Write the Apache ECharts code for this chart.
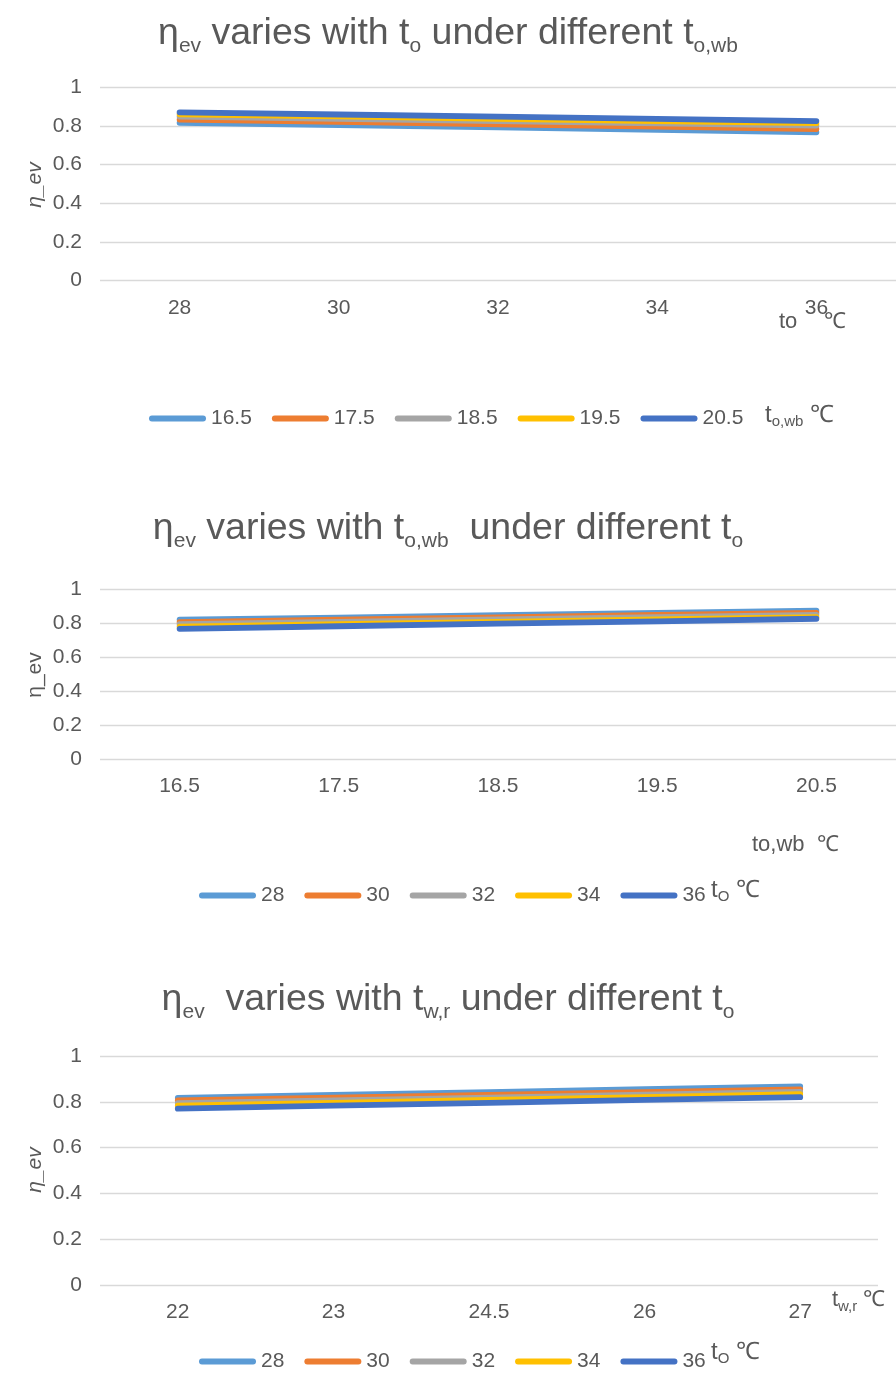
<!DOCTYPE html>
<html><head><meta charset="utf-8">
<script src="https://cdn.jsdelivr.net/npm/echarts@6/dist/echarts.min.js"></script>
<style>html,body{margin:0;padding:0;background:#fff}#c{width:896px;height:1383px}</style>
</head><body><div id="c"></div>
<script>
const COLORS = ['#5B9BD5', '#ED7D31', '#A5A5A5', '#FFC000', '#4472C4'];
// chart 1: x = t_o, series = t_o,wb
const c1Cats = ['28', '30', '32', '34', '36'];
const c1Names = ['16.5', '17.5', '18.5', '19.5', '20.5'];
const c1_165 = [0.817, 0.805, 0.793, 0.780, 0.768];
const c1_175 = [0.834, 0.822, 0.809, 0.797, 0.785];
const c1_185 = [0.849, 0.837, 0.826, 0.814, 0.803];
const c1_195 = [0.861, 0.850, 0.838, 0.826, 0.815];
const c1_205 = [0.871, 0.860, 0.849, 0.837, 0.826];
// chart 2: x = t_o,wb, series = t_o
const c2Cats = ['16.5', '17.5', '18.5', '19.5', '20.5'];
const c2Names = ['28', '30', '32', '34', '36'];
const c2_28 = [0.819, 0.832, 0.846, 0.859, 0.872];
const c2_30 = [0.805, 0.819, 0.833, 0.847, 0.860];
const c2_32 = [0.793, 0.807, 0.821, 0.834, 0.848];
const c2_34 = [0.779, 0.793, 0.807, 0.821, 0.835];
const c2_36 = [0.766, 0.781, 0.796, 0.810, 0.825];
// chart 3: x = t_w,r, series = t_o
const c3Cats = ['22', '23', '24.5', '26', '27'];
const c3Names = ['28', '30', '32', '34', '36'];
const c3_28 = [0.817, 0.830, 0.842, 0.855, 0.867];
const c3_30 = [0.806, 0.818, 0.830, 0.842, 0.854];
const c3_32 = [0.794, 0.806, 0.818, 0.831, 0.843];
const c3_34 = [0.783, 0.795, 0.808, 0.820, 0.833];
const c3_36 = [0.770, 0.783, 0.795, 0.808, 0.820];
const yMin = 0, yMax = 1, yStep = 0.2;
const yName = 'η_ev';

const FONT = '"Liberation Sans", Arial, sans-serif';
const TXT = '#595959';
const GRID = '#D9D9D9';
const LBL = 21;

const chart = echarts.init(document.getElementById('c'), null, {renderer: 'canvas'});

function xAxis(idx, cats) {
  return {
    type: 'category', gridIndex: idx, data: cats, boundaryGap: true,
    axisLine: {show: false}, axisTick: {show: false},
    axisLabel: {color: TXT, fontSize: LBL, fontFamily: FONT, margin: 17}
  };
}
function yAxis(idx) {
  return {
    type: 'value', gridIndex: idx, min: yMin, max: yMax, interval: yStep,
    axisLine: {show: false}, axisTick: {show: false},
    axisLabel: {color: TXT, fontSize: LBL, fontFamily: FONT, margin: 18},
    splitLine: {lineStyle: {color: GRID, width: 1.3}}
  };
}
function series(name, data, color, idx) {
  return {
    type: 'line', name: name, data: data, xAxisIndex: idx, yAxisIndex: idx,
    symbol: 'none', smooth: false,
    lineStyle: {color: color, width: 5.8, cap: 'round', join: 'round'},
    itemStyle: {color: color}
  };
}
const ICON = 'path://M3,0 L55,0 A3,3 0 0 1 55,6 L3,6 A3,3 0 0 1 3,0 Z';
function legend(names, left, top) {
  return {
    data: names, left: left, top: top, orient: 'horizontal', padding: 0,
    icon: ICON, itemWidth: 57, itemHeight: 6, itemGap: 20,
    textStyle: {color: TXT, fontSize: LBL, fontFamily: FONT},
    selectedMode: false
  };
}
const SUB = {fontSize: 21, fontFamily: FONT, fill: TXT, verticalAlign: 'bottom', lineHeight: 16};
const MAIN = {fontSize: 37.5, fontFamily: FONT, fill: TXT, lineHeight: 46};
function title(text, x, y) {
  return {
    type: 'text', x: x, y: y,
    style: {text: text, align: 'center', verticalAlign: 'middle', rich: {m: MAIN, s: SUB}}
  };
}
function note(text, x, y, size) {
  return {
    type: 'text', x: x, y: y,
    style: {text: text, align: 'left', verticalAlign: 'middle',
      rich: {m: {fontSize: size, fontFamily: FONT, fill: TXT, lineHeight: 28},
             s: {fontSize: 15, fontFamily: FONT, fill: TXT, verticalAlign: 'bottom', lineHeight: 12}}}
  };
}
function yLabel(y, italic) {
  return {
    type: 'text', x: 35, y: y, rotation: Math.PI / 2,
    style: {text: yName, align: 'center', verticalAlign: 'middle', fill: TXT,
      font: (italic ? 'italic ' : '') + '21px ' + FONT}
  };
}

const c1Data = [c1_165, c1_175, c1_185, c1_195, c1_205];
const c2Data = [c2_28, c2_30, c2_32, c2_34, c2_36];
const c3Data = [c3_28, c3_30, c3_32, c3_34, c3_36];

const allSeries = [];
c1Names.forEach((n, i) => allSeries.push(series(n, c1Data[i], COLORS[i], 0)));
c2Names.forEach((n, i) => allSeries.push(series(n, c2Data[i], COLORS[i], 1)));
c3Names.forEach((n, i) => allSeries.push(series(n, c3Data[i], COLORS[i], 2)));

chart.setOption({
  animation: false,
  backgroundColor: '#fff',
  grid: [
    {left: 100, top: 87.5, width: 796, height: 193},
    {left: 100, top: 589, width: 796, height: 170},
    {left: 100, top: 1056, width: 778, height: 229}
  ],
  xAxis: [xAxis(0, c1Cats), xAxis(1, c2Cats), xAxis(2, c3Cats)],
  yAxis: [yAxis(0), yAxis(1), yAxis(2)],
  legend: [legend(c1Names, 149, 408), legend(c2Names, 199, 885), legend(c3Names, 199, 1351)],
  series: allSeries,
  graphic: [
    title('{m|η}{s|ev}{m| varies with t}{s|o}{m| under different t}{s|o,wb}', 448, 34),
    title('{m|η}{s|ev}{m| varies with t}{s|o,wb}{m|  under different t}{s|o}', 448, 529),
    title('{m|η}{s|ev}{m|  varies with t}{s|w,r}{m| under different t}{s|o}', 448, 1000),
    yLabel(185, true),
    yLabel(675, false),
    yLabel(1170, true),
    note('{m|to}', 779, 322, 22),
    note('{m|℃}', 824, 322, 22),
    note('{m|to,wb  ℃}', 752, 845, 22),
    note('{m|t}{s|w,r}{m| ℃}', 832, 1300, 22),
    note('{m|t}{s|o,wb}{m| ℃}', 765, 415, 24),
    note('{m|t}{s|O}{m| ℃}', 711, 890, 24),
    note('{m|t}{s|O}{m| ℃}', 711, 1352, 24)
  ]
});
</script></body></html>
